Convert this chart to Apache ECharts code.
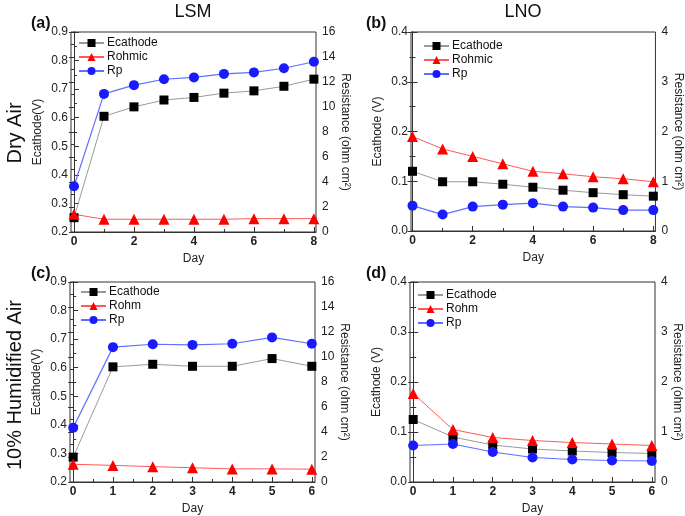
<!DOCTYPE html>
<html>
<head>
<meta charset="utf-8">
<script src="https://cdn.jsdelivr.net/npm/echarts@6/dist/echarts.min.js"></script>
<style>
  html, body { margin: 0; padding: 0; background: #fff; }
  #main { width: 685px; height: 516px; }
</style>
</head>
<body>
<div id="main"></div>
<script>
// days
var daysDry = [0, 1, 2, 3, 4, 5, 6, 7, 8];
var daysHum = [0, 1, 2, 3, 4, 5, 6];

// (a) LSM, dry air
var lsmDryE = [0.250, 0.605, 0.638, 0.662, 0.671, 0.686, 0.694, 0.710, 0.735];
var lsmDryRohm = [1.42, 1.02, 1.02, 1.02, 1.02, 1.02, 1.07, 1.07, 1.07];
var lsmDryRp = [3.66, 11.05, 11.75, 12.22, 12.37, 12.65, 12.77, 13.10, 13.62];

// (b) LNO, dry air
var lnoDryE = [0.120, 0.099, 0.099, 0.094, 0.088, 0.082, 0.077, 0.073, 0.070];
var lnoDryRohm = [1.90, 1.65, 1.50, 1.35, 1.20, 1.15, 1.09, 1.05, 0.99];
var lnoDryRp = [0.51, 0.33, 0.49, 0.53, 0.56, 0.49, 0.47, 0.42, 0.42];

// (c) LSM, 10% humidified air
var lsmHumE = [0.287, 0.603, 0.612, 0.605, 0.605, 0.632, 0.605];
var lsmHumRohm = [1.42, 1.33, 1.23, 1.14, 1.05, 1.05, 1.03];
var lsmHumRp = [4.34, 10.79, 11.02, 10.97, 11.06, 11.57, 11.06];

// (d) LNO, 10% humidified air
var lnoHumE = [0.125, 0.090, 0.074, 0.066, 0.062, 0.059, 0.057];
var lnoHumRohm = [1.77, 1.05, 0.89, 0.83, 0.79, 0.76, 0.73];
var lnoHumRp = [0.73, 0.76, 0.60, 0.49, 0.45, 0.43, 0.42];

// tick labels
var dryTicks = [0, 2, 4, 6, 8];
var dryMinor = [1, 3, 5, 7];
var humTicks = [0, 1, 2, 3, 4, 5, 6];
var humMinor = [0.5, 1.5, 2.5, 3.5, 4.5, 5.5];

var FONT = 'Liberation Sans, Arial, sans-serif';

function pairs(xs, ys) {
  return xs.map(function (x, i) { return [x, ys[i]]; });
}

var grids = [
  { left: 71, top: 32, width: 245, height: 200 },
  { left: 411, top: 32, width: 245, height: 199 },
  { left: 70, top: 282, width: 245, height: 200 },
  { left: 410, top: 282, width: 245, height: 200 }
];
grids.forEach(function (g) {
  g.show = true; g.borderColor = '#333'; g.borderWidth = 1; g.backgroundColor = 'transparent';
});

var xAxes = [];
var yAxes = [];
var series = [];

function addX(gi, min, max, ticks, minor) {
  xAxes.push({
    type: 'value', gridIndex: gi, min: min, max: max, position: 'bottom',
    name: 'Day', nameLocation: 'middle', nameGap: 21,
    nameTextStyle: { fontFamily: FONT, fontSize: 12, color: '#222' },
    axisLine: { show: true, lineStyle: { color: '#333' } },
    axisTick: { show: true, inside: true, length: 5, customValues: ticks, lineStyle: { color: '#333' } },
    axisLabel: { customValues: ticks, fontFamily: FONT, fontSize: 12, fontWeight: 'bold', color: '#222', margin: 4 },
    splitLine: { show: false }
  });
  xAxes.push({
    type: 'value', gridIndex: gi, min: min, max: max, position: 'bottom',
    axisLine: { show: false },
    axisTick: { show: true, inside: true, length: 3, customValues: minor, lineStyle: { color: '#333' } },
    axisLabel: { show: false },
    splitLine: { show: false }
  });
}

function addY(gi, min, max, interval, digits, name, pos, gap) {
  yAxes.push({
    type: 'value', gridIndex: gi, min: min, max: max, interval: interval, position: pos,
    name: name, nameLocation: 'middle', nameGap: gap,
    nameRotate: pos === 'right' ? -90 : 90,
    nameTextStyle: { fontFamily: FONT, fontSize: 12, color: '#222' },
    axisLine: { show: true, lineStyle: { color: '#333' } },
    axisTick: { show: true, inside: true, length: 5, lineStyle: { color: '#333' } },
    minorTick: { show: true, splitNumber: 2, length: 3, lineStyle: { color: '#333' } },
    axisLabel: {
      fontFamily: FONT, fontSize: 12, color: '#222', margin: pos === 'right' ? 6 : 3,
      formatter: function (v) { return v.toFixed(digits); }
    },
    splitLine: { show: false }
  });
}

function addSeries(gi, xs, e, rohm, rp, rohmName) {
  var xi = gi * 2;
  var yl = gi * 2, yr = gi * 2 + 1;
  series.push({
    name: 'Ecathode', type: 'line', xAxisIndex: xi, yAxisIndex: yl,
    data: pairs(xs, e), symbol: 'rect', symbolSize: 9,
    itemStyle: { color: '#000' }, lineStyle: { color: '#9a9a9a', width: 1 }
  });
  series.push({
    name: rohmName, type: 'line', xAxisIndex: xi, yAxisIndex: yr,
    data: pairs(xs, rohm), symbol: 'triangle', symbolSize: 11,
    itemStyle: { color: '#ff0000' }, lineStyle: { color: '#ff5a5a', width: 1 }
  });
  series.push({
    name: 'Rp', type: 'line', xAxisIndex: xi, yAxisIndex: yr,
    data: pairs(xs, rp), symbol: 'circle', symbolSize: 10,
    itemStyle: { color: '#1a1aff' }, lineStyle: { color: '#5f6fff', width: 1.2 }
  });
}

// (a)
addX(0, -0.1, 8.07, dryTicks, dryMinor);
addY(0, 0.2, 0.9, 0.1, 1, 'Ecathode(V)', 'left', 27);
addY(0, 0, 16, 2, 0, 'Resistance (ohm cm²)', 'right', 22);
addSeries(0, daysDry, lsmDryE, lsmDryRohm, lsmDryRp, 'Rohmic');
// (b)
addX(1, -0.05, 8.07, dryTicks, dryMinor);
addY(1, 0, 0.4, 0.1, 1, 'Ecathode (V)', 'left', 27);
addY(1, 0, 4, 1, 0, 'Resistance (ohm cm²)', 'right', 16);
addSeries(1, daysDry, lnoDryE, lnoDryRohm, lnoDryRp, 'Rohmic');
// (c)
addX(2, -0.08, 6.08, humTicks, humMinor);
addY(2, 0.2, 0.9, 0.1, 1, 'Ecathode(V)', 'left', 27);
addY(2, 0, 16, 2, 0, 'Resistance (ohm cm²)', 'right', 22);
addSeries(2, daysHum, lsmHumE, lsmHumRohm, lsmHumRp, 'Rohm');
// (d)
addX(3, -0.08, 6.08, humTicks, humMinor);
addY(3, 0, 0.4, 0.1, 1, 'Ecathode (V)', 'left', 27);
addY(3, 0, 4, 1, 0, 'Resistance (ohm cm²)', 'right', 16);
addSeries(3, daysHum, lnoHumE, lnoHumRohm, lnoHumRp, 'Rohm');

function legendAt(left, top, names) {
  return {
    left: left, top: top, orient: 'vertical', itemGap: 0, itemWidth: 25, itemHeight: 10,
    padding: 0, data: names, selectedMode: false,
    textStyle: { fontFamily: FONT, fontSize: 12, color: '#111', lineHeight: 14, padding: [0, 0, 0, -2] }
  };
}

var titles = [
  { text: 'LSM', left: 193, top: 3 },
  { text: 'LNO', left: 523, top: 3 }
].map(function (t) {
  return { text: t.text, left: t.left, top: t.top, textAlign: 'center', padding: 0,
    textStyle: { fontFamily: FONT, fontSize: 18, fontWeight: 'normal', color: '#111' } };
});
[['(a)', 31, 16], ['(b)', 366, 16], ['(c)', 31, 266], ['(d)', 366, 266]].forEach(function (p) {
  titles.push({ text: p[0], left: p[1], top: p[2], padding: 0,
    textStyle: { fontFamily: FONT, fontSize: 16, fontWeight: 'bold', color: '#111' } });
});

var myChart = echarts.init(document.getElementById('main'));
myChart.setOption({
  animation: false,
  title: titles,
  legend: [
    legendAt(78, 36, ['Ecathode', 'Rohmic', 'Rp']),
    legendAt(423, 39, ['Ecathode', 'Rohmic', 'Rp']),
    legendAt(80, 285, ['Ecathode', 'Rohm', 'Rp']),
    legendAt(417, 288, ['Ecathode', 'Rohm', 'Rp'])
  ],
  grid: grids,
  xAxis: xAxes,
  yAxis: yAxes,
  series: series,
  graphic: [
    { type: 'text', x: 5, y: 133, rotation: Math.PI / 2,
      style: { text: 'Dry Air', fontFamily: FONT, fontSize: 20, fill: '#111', align: 'center', verticalAlign: 'top' } },
    { type: 'text', x: 5, y: 385, rotation: Math.PI / 2,
      style: { text: '10% Humidified Air', fontFamily: FONT, fontSize: 20, fill: '#111', align: 'center', verticalAlign: 'top' } }
  ]
});
</script>
</body>
</html>
